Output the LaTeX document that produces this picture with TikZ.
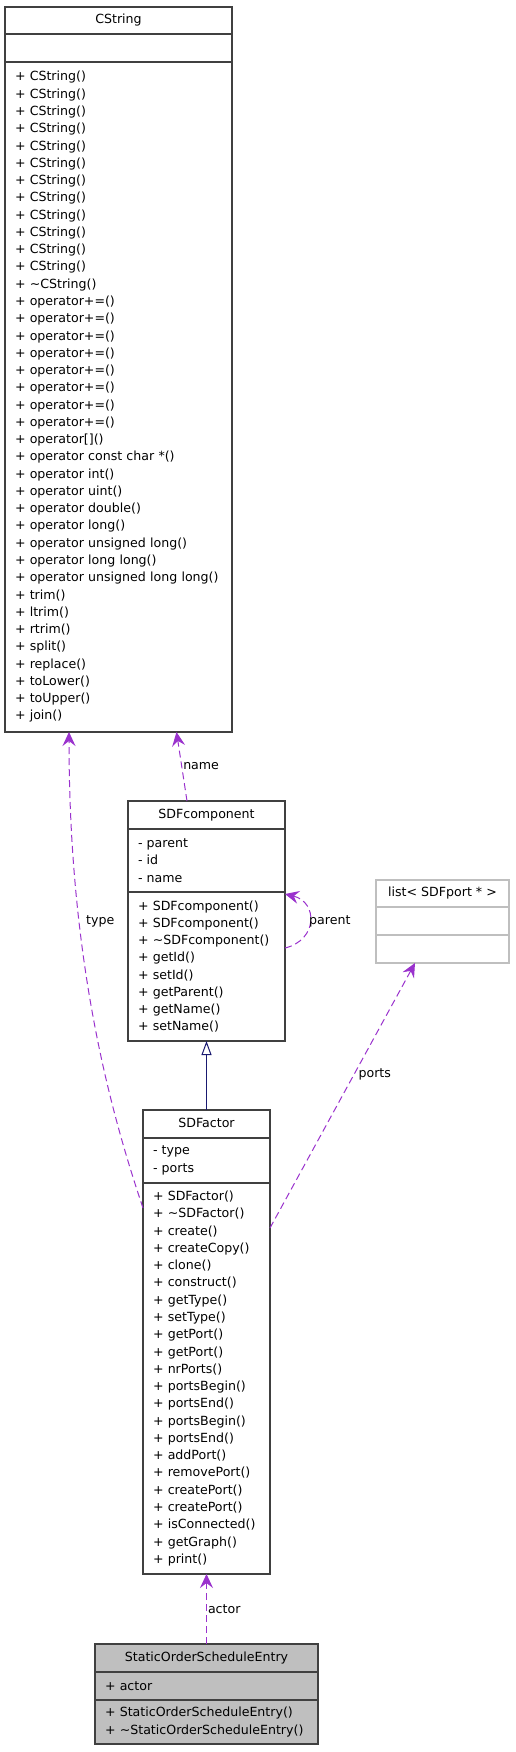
\documentclass[tikz,border=0pt]{standalone}
\usepackage{xcolor}
\usepackage{fontspec}
\setmainfont{DejaVu Sans}
\usepackage{tikz}
\usetikzlibrary{arrows.meta, positioning}

\definecolor{relpurple}{HTML}{9A32CD}
\definecolor{inhnavy}{HTML}{191970}
\definecolor{boxedge}{HTML}{404040}
\definecolor{lightedge}{HTML}{BFBFBF}
\definecolor{entryfill}{HTML}{BFBFBF}

\begin{document}
\begin{tikzpicture}[x=1pt, y=-1pt,
        every node/.style={font=\fontsize{12.6}{17.27}\selectfont},
        head/.style={draw=boxedge, line width=1.2pt, anchor=north, outer sep=0pt, inner sep=0pt, text height=9.3pt, text depth=2.6pt},
        members/.style={draw=boxedge, line width=1.2pt, anchor=north, outer sep=0pt, inner xsep=10pt, inner ysep=2pt, align=left},
        member/.style={draw=relpurple, line width=1pt, dash pattern=on 7pt off 4pt, -{Stealth[length=14pt, width=13pt, inset=5pt]}},
        inherit/.style={draw=inhnavy, line width=1pt, -{Triangle[open, length=14pt, width=10pt, fill=white]}},
        lbl/.style={inner sep=1pt}
    ]
        \useasboundingbox (0,0) rectangle (515,1752);

        % Classes
        \node[head, minimum width=227pt, minimum height=27pt] (cs_head) at (118.5, 7) {CString};
        \node[members, minimum width=227pt, minimum height=28pt] (cs_attr) at (cs_head.south) {};
        \node[members, text width=207pt, minimum height=670pt] (cs_meth) at (cs_attr.south) {+ CString()\\ + CString()\\ + CString()\\ + CString()\\ + CString()\\ + CString()\\ + CString()\\ + CString()\\ + CString()\\ + CString()\\ + CString()\\ + CString()\\ + \textasciitilde CString()\\ + operator+=()\\ + operator+=()\\ + operator+=()\\ + operator+=()\\ + operator+=()\\ + operator+=()\\ + operator+=()\\ + operator+=()\\ + operator[]()\\ + operator const char *()\\ + operator int()\\ + operator uint()\\ + operator double()\\ + operator long()\\ + operator unsigned long()\\ + operator long long()\\ + operator unsigned long long()\\ + trim()\\ + ltrim()\\ + rtrim()\\ + split()\\ + replace()\\ + toLower()\\ + toUpper()\\ + join()};

        \node[head, minimum width=157pt, minimum height=28pt] (cmp_head) at (206.5, 801) {SDFcomponent};
        \node[members, text width=137pt, minimum height=63pt] (cmp_attr) at (cmp_head.south) {- parent\\ - id\\ - name};
        \node[members, text width=137pt, minimum height=149pt] (cmp_meth) at (cmp_attr.south) {+ SDFcomponent()\\ + SDFcomponent()\\ + \textasciitilde SDFcomponent()\\ + getId()\\ + setId()\\ + getParent()\\ + getName()\\ + setName()};

        \node[head, draw=lightedge, minimum width=133pt, minimum height=27pt] (list_head) at (442.5, 880) {list< SDFport * >};
        \node[members, draw=lightedge, minimum width=133pt, minimum height=28pt] (list_attr) at (list_head.south) {};
        \node[members, draw=lightedge, minimum width=133pt, minimum height=28pt] (list_meth) at (list_attr.south) {};

        \node[head, minimum width=127pt, minimum height=28pt] (fac_head) at (206.5, 1110) {SDFactor};
        \node[members, text width=107pt, minimum height=45pt] (fac_attr) at (fac_head.south) {- type\\ - ports};
        \node[members, text width=107pt, minimum height=391pt] (fac_meth) at (fac_attr.south) {+ SDFactor()\\ + \textasciitilde SDFactor()\\ + create()\\ + createCopy()\\ + clone()\\ + construct()\\ + getType()\\ + setType()\\ + getPort()\\ + getPort()\\ + nrPorts()\\ + portsBegin()\\ + portsEnd()\\ + portsBegin()\\ + portsEnd()\\ + addPort()\\ + removePort()\\ + createPort()\\ + createPort()\\ + isConnected()\\ + getGraph()\\ + print()};

        \node[head, fill=entryfill, minimum width=223pt, minimum height=28pt] (ent_head) at (206.5, 1644) {StaticOrderScheduleEntry};
        \node[members, fill=entryfill, text width=203pt, minimum height=28pt] (ent_attr) at (ent_head.south) {+ actor};
        \node[members, fill=entryfill, text width=203pt, minimum height=44pt] (ent_meth) at (ent_attr.south) {+ StaticOrderScheduleEntry()\\ + \textasciitilde StaticOrderScheduleEntry()};

        % Edges
        \draw[inherit] (fac_head.north) -- (cmp_meth.south);
        \draw[member] ([xshift=-19.5pt]cmp_head.north) -- ([xshift=58pt]cs_meth.south) node[lbl, midway, anchor=west] (name_lbl) {name};
        \draw[member] ([yshift=170.5pt]fac_meth.west) .. controls (110,1110) and (69,960) .. ([xshift=-49.5pt]cs_meth.south);
        \node[lbl, anchor=west] (type_lbl) at (85, 921) {type};
        \draw[member] ([yshift=18.5pt]cmp_meth.east) .. controls (318,940) and (318,902) .. ([yshift=72.5pt]cmp_meth.east);
        \node[lbl, anchor=west] (parent_lbl) at (308, 921) {parent};
        \draw[member] ([yshift=150.5pt]fac_meth.east) -- ([xshift=-27.5pt]list_meth.south) node[lbl, pos=0.58, anchor=west, xshift=3pt] (ports_lbl) {ports};
        \draw[member] (ent_head.north) -- (fac_meth.south) node[lbl, midway, anchor=west] (actor_lbl) {actor};
    \end{tikzpicture}
\end{document}
